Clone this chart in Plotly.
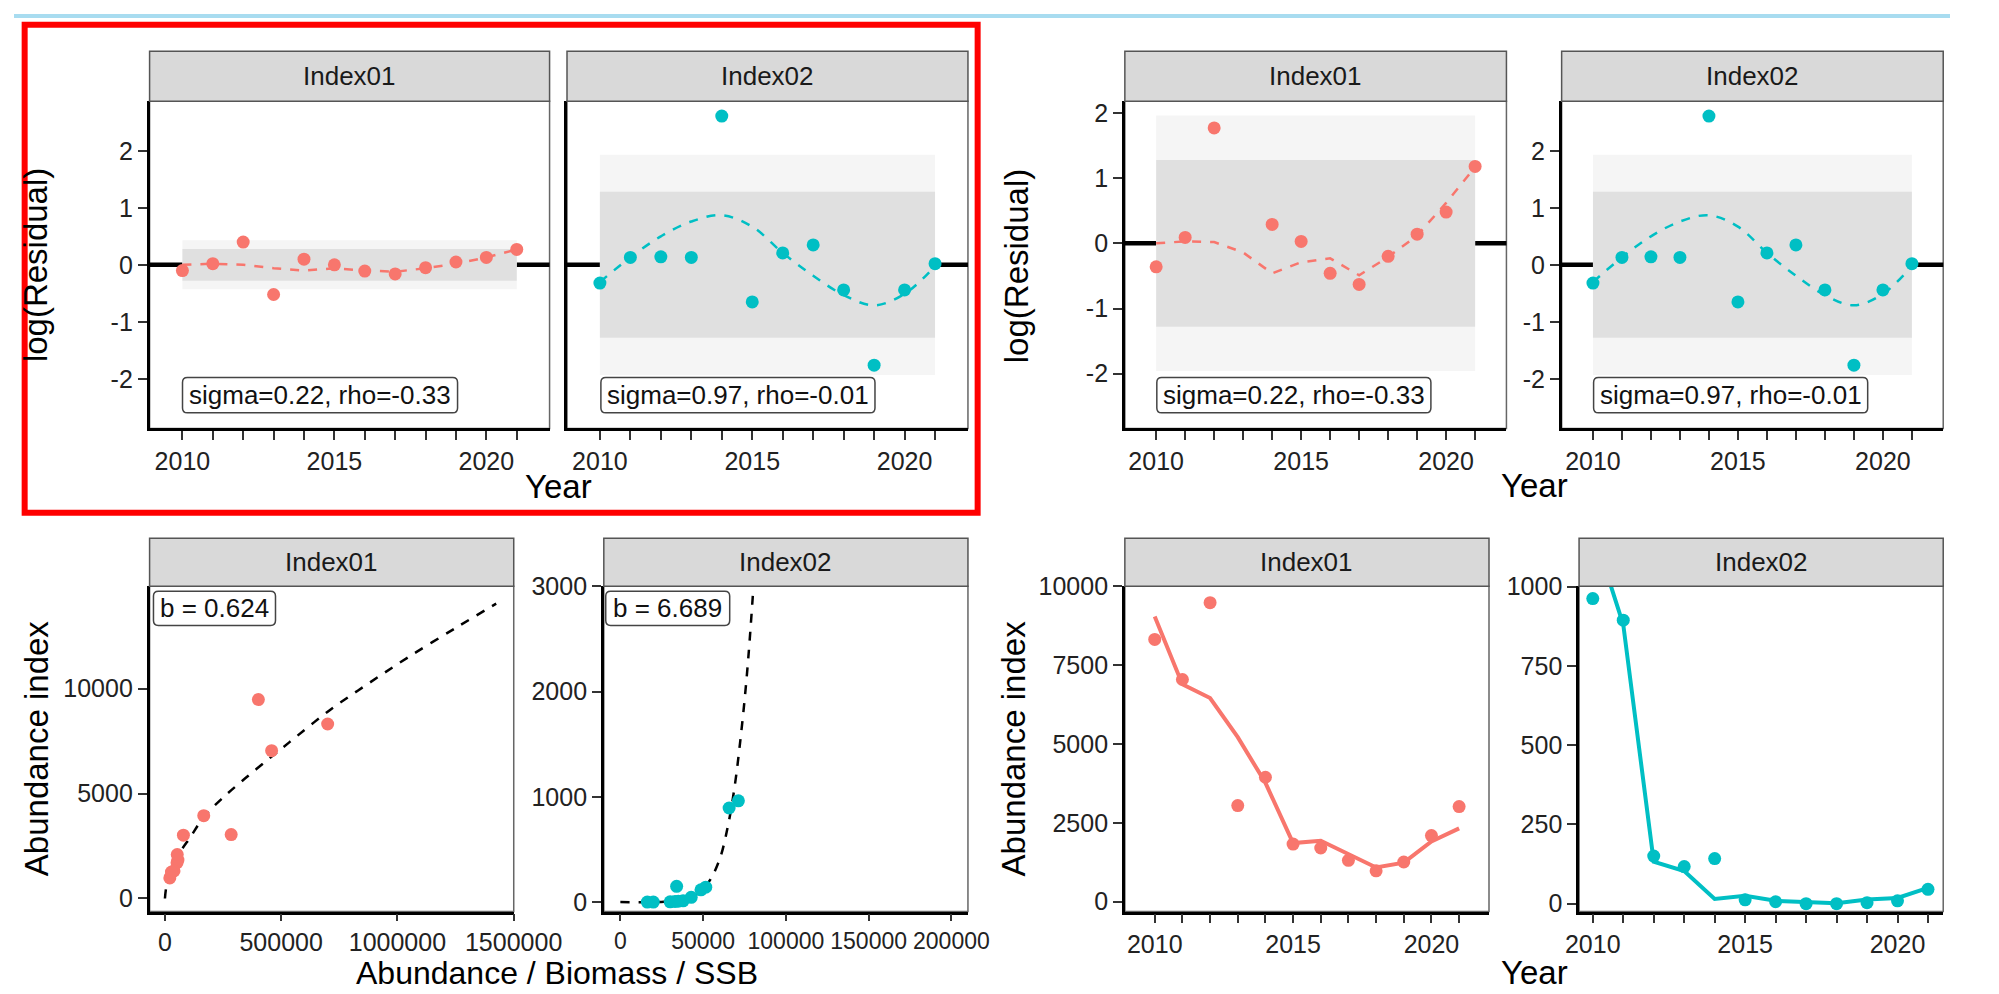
import plotly.graph_objects as go

W, H = 1999, 994

# ---------------- data ----------------
years = list(range(2010, 2022))
year_tick_labels = [str(y) if y % 5 == 0 else "" for y in years]

# top row: log residuals (left block)
resid_idx1_a = [-0.10, 0.02, 0.40, -0.52, 0.10, 0.00, -0.11, -0.16, -0.05, 0.05, 0.13, 0.27]
smooth_idx1_a = [0.00, 0.02, 0.00, -0.06, -0.10, -0.06, -0.10, -0.12, -0.06, 0.02, 0.13, 0.27]
band_idx1_a = [0.28, 0.43]

resid_idx2 = [-0.32, 0.13, 0.14, 0.13, 2.61, -0.65, 0.21, 0.35, -0.44, -1.76, -0.44, 0.02]
smooth_idx2 = [-0.30, 0.13, 0.50, 0.76, 0.87, 0.67, 0.21, -0.19, -0.53, -0.71, -0.51, -0.02]
band_idx2 = [1.28, 1.93]

# top row: log residuals (right block)
resid_idx1_b = [-0.36, 0.09, 1.77, None, 0.29, 0.03, -0.46, -0.63, -0.20, 0.14, 0.48, 1.18]
smooth_idx1_b = [0.00, 0.03, 0.02, -0.14, -0.46, -0.29, -0.23, -0.49, -0.21, 0.12, 0.62, 1.17]
band_idx1_b = [1.28, 1.96]

resid_labels = ["sigma=0.22, rho=-0.33", "sigma=0.97, rho=-0.01"]

# bottom row: observed / predicted abundance index
obs_idx1 = [8316, 7045, 9480, 3047, 3946, 1828, 1704, 1312, 981, 1260, 2097, 3016]
pred_idx1 = [9040, 6890, 6456, 5217, 3770, 1860, 1932, 1498, 1085, 1240, 1911, 2324]
obs_idx2 = [962, 894, 150, 117, 142, 12, 6, 0, 0, 3, 9, 45]
pred_idx2 = [1180, 880, 132, 103, 15, 25, 9, 4, 1, 13, 18, 50]

# bottom-left: index vs abundance / biomass / SSB
biomass_idx1 = [700000, 459000, 402000, 285000, 167000, 56000, 52000, 39000, 21000, 28000, 53000, 79500]
biomass_idx2 = [71300, 65700, 34000, 48700, 51600, 37900, 33000, 16300, 19900, 30100, 35000, 42800]
fit1_x = [0, 7000, 28000, 63000, 111000, 167000, 250000, 348000, 459000, 536000, 706000, 876000, 1047000, 1259000, 1425000]
fit1_y = [0, 620, 1400, 2170, 2950, 3880, 4810, 5750, 6760, 7450, 8950, 10250, 11500, 12950, 14050]
fit2_x = [0, 24600, 39900, 51600, 59500, 65400, 69300, 72200, 75100, 77500, 80400]
fit2_y = [0, 2, 17, 154, 386, 756, 1126, 1497, 1929, 2361, 2994]
b_labels = ["b = 0.624", "b = 6.689"]

strip_labels = ["Index01", "Index02"]

resid_yticks = [-2, -1, 0, 1, 2]
p5_xticks = [0, 500000, 1000000, 1500000]
p6_xticks = [0, 50000, 100000, 150000, 200000]
p5_yticks = [0, 5000, 10000]
p6_yticks = [0, 1000, 2000, 3000]
p7_yticks = [0, 2500, 5000, 7500, 10000]
p8_yticks = [0, 250, 500, 750, 1000]

SALMON = "#F8766D"
TEAL = "#00BFC4"
FONT = "Liberation Sans, Arial, sans-serif"


def fx(p):
    return p / W


def fy(p):
    return 1 - p / H


# panel boxes in pixels: x0, x1, plot top, plot bottom, strip top
panels = [
    (140, 553, 89, 423, 38),
    (571, 985, 89, 423, 38),
    (1147, 1541, 89, 423, 38),
    (1598, 1992, 89, 423, 38),
    (140, 516, 584, 916, 535),
    (609, 985, 584, 916, 535),
    (1147, 1523, 584, 916, 535),
    (1616, 1992, 584, 916, 535),
]

fig = go.Figure()
shapes = []
annotations = []


def axis_common():
    return dict(showgrid=False, zeroline=False, showline=True, linecolor="black",
                linewidth=2.5, ticks="outside", ticklen=9, tickwidth=1.5, tickangle=0,
                tickcolor="#333333", tickfont=dict(family=FONT, size=25, color="#222222"))


yr_range = [2008.92, 2022.08]
axes = [
    # (xrange, xticks, xlabels, yrange, yticks, show y labels)
    (yr_range, years, year_tick_labels, [-2.87, 2.87], resid_yticks, True),
    (yr_range, years, year_tick_labels, [-2.87, 2.87], resid_yticks, False),
    (yr_range, years, year_tick_labels, [-2.84, 2.18], resid_yticks, True),
    (yr_range, years, year_tick_labels, [-2.87, 2.87], resid_yticks, True),
    ([-66000, 1500500], p5_xticks, [str(v) for v in p5_xticks], [-624, 14880], p5_yticks, True),
    ([-10000, 210000], p6_xticks, [str(v) for v in p6_xticks], [-90, 3001], p6_yticks, True),
    (yr_range, years, year_tick_labels, [-312, 10001], p7_yticks, True),
    ([2009.55, 2021.5], years, year_tick_labels, [-25, 1001], p8_yticks, True),
]

layout_axes = {}
for i, ((x0, x1, top, bot, stop), (xr, xt, xl, yr, yt, showy)) in enumerate(zip(panels, axes), start=1):
    sfx = "" if i == 1 else str(i)
    xa = axis_common()
    xa.update(domain=[fx(x0), fx(x1)], range=xr, tickvals=xt, ticktext=xl,
              anchor="y" + sfx)
    ya = axis_common()
    ya.update(domain=[fy(bot), fy(top)], range=yr, tickvals=yt,
              ticktext=[str(v) for v in yt], anchor="x" + sfx)
    if not showy:
        ya.update(showticklabels=False, ticks="")
    layout_axes["xaxis" + sfx] = xa
    layout_axes["yaxis" + sfx] = ya

    # strip
    shapes.append(dict(type="rect", xref="paper", yref="paper",
                       x0=fx(x0), x1=fx(x1), y0=fy(top), y1=fy(stop),
                       fillcolor="#d9d9d9", line=dict(color="#555555", width=1.5)))
    annotations.append(dict(xref="paper", yref="paper", x=fx((x0 + x1) / 2),
                            y=fy((top + stop) / 2), text=strip_labels[(i - 1) % 2],
                            showarrow=False, font=dict(family=FONT, size=26, color="#1a1a1a"),
                            xanchor="center", yanchor="middle"))
    # panel border
    shapes.append(dict(type="rect", xref="paper", yref="paper", layer="below",
                       x0=fx(x0), x1=fx(x1), y0=fy(bot), y1=fy(top),
                       line=dict(color="#666666", width=1.5)))

# biomass axes: slightly shorter ticks, smaller labels on the crowded Index02 axis
layout_axes["xaxis5"]["ticklen"] = 7
layout_axes["xaxis6"]["ticklen"] = 7
layout_axes["xaxis6"]["tickfont"] = dict(family=FONT, size=23, color="#222222")


def add_bands(ax, band):
    sfx = "" if ax == 1 else str(ax)
    for lim, col in [(band[1], "#f5f5f5"), (band[0], "#e0e0e0")]:
        shapes.append(dict(type="rect", xref="x" + sfx, yref="y" + sfx, layer="below",
                           x0=years[0], x1=years[-1], y0=-lim, y1=lim,
                           fillcolor=col, line=dict(width=0)))
    shapes.append(dict(type="line", xref="x" + sfx + " domain", yref="y" + sfx,
                       layer="below", x0=0, x1=1, y0=0, y1=0,
                       line=dict(color="black", width=4.5)))


def resid_panel(ax, resid, smooth, band, color, shape):
    sfx = "" if ax == 1 else str(ax)
    add_bands(ax, band)
    fig.add_trace(go.Scatter(x=years, y=smooth, mode="lines", xaxis="x" + sfx, yaxis="y" + sfx,
                             line=dict(color=color, width=2.5, dash="dash", shape=shape)))
    fig.add_trace(go.Scatter(x=years, y=resid, mode="markers", xaxis="x" + sfx, yaxis="y" + sfx,
                             marker=dict(color=color, size=13)))


resid_panel(1, resid_idx1_a, smooth_idx1_a, band_idx1_a, SALMON, "linear")
resid_panel(2, resid_idx2, smooth_idx2, band_idx2, TEAL, "spline")
resid_panel(3, resid_idx1_b, smooth_idx1_b, band_idx1_b, SALMON, "linear")
resid_panel(4, resid_idx2, smooth_idx2, band_idx2, TEAL, "spline")


def label_box(x0, x1, y0, y1, txt, r=5):
    # rounded white box with a thin border, like a ggplot label
    pts = [("M", x0 + r, y0), ("L", x1 - r, y0), ("Q", x1, y0, x1, y0 + r),
           ("L", x1, y1 - r), ("Q", x1, y1, x1 - r, y1), ("L", x0 + r, y1),
           ("Q", x0, y1, x0, y1 - r), ("L", x0, y0 + r), ("Q", x0, y0, x0 + r, y0)]
    path = ""
    for p in pts:
        cmd, coords = p[0], p[1:]
        xy = [f"{fx(coords[k]):.5f},{fy(coords[k + 1]):.5f}" for k in range(0, len(coords), 2)]
        path += cmd + " ".join(xy) + " "
    shapes.append(dict(type="path", xref="paper", yref="paper", layer="above",
                       path=path + "Z", fillcolor="white",
                       line=dict(color="#444444", width=1.5)))
    annotations.append(dict(xref="paper", yref="paper", x=fx((x0 + x1) / 2),
                            y=fy((y0 + y1) / 2), text=txt, showarrow=False,
                            xanchor="center", yanchor="middle",
                            font=dict(family=FONT, size=26, color="#111111")))


# sigma / rho labels
label_box(174, 458, 371, 407, resid_labels[0])
label_box(606, 889, 371, 407, resid_labels[1])
label_box(1180, 1463, 371, 407, resid_labels[0])
label_box(1631, 1914, 371, 407, resid_labels[1])

# scatter panels
fig.add_trace(go.Scatter(x=fit1_x, y=fit1_y, mode="lines", xaxis="x5", yaxis="y5",
                         line=dict(color="black", width=2.5, dash="dash", shape="spline")))
fig.add_trace(go.Scatter(x=biomass_idx1, y=obs_idx1, mode="markers", xaxis="x5", yaxis="y5",
                         marker=dict(color=SALMON, size=13)))
fig.add_trace(go.Scatter(x=fit2_x, y=fit2_y, mode="lines", xaxis="x6", yaxis="y6",
                         line=dict(color="black", width=2.5, dash="dash", shape="spline")))
fig.add_trace(go.Scatter(x=biomass_idx2, y=obs_idx2, mode="markers", xaxis="x6", yaxis="y6",
                         marker=dict(color=TEAL, size=13)))
label_box(144, 270, 589, 624, b_labels[0])
label_box(611, 739, 589, 624, b_labels[1])

# time series panels
fig.add_trace(go.Scatter(x=years, y=pred_idx1, mode="lines", xaxis="x7", yaxis="y7",
                         line=dict(color=SALMON, width=4)))
fig.add_trace(go.Scatter(x=years, y=obs_idx1, mode="markers", xaxis="x7", yaxis="y7",
                         marker=dict(color=SALMON, size=13)))
fig.add_trace(go.Scatter(x=years, y=pred_idx2, mode="lines", xaxis="x8", yaxis="y8",
                         line=dict(color=TEAL, width=4)))
fig.add_trace(go.Scatter(x=years, y=obs_idx2, mode="markers", xaxis="x8", yaxis="y8",
                         marker=dict(color=TEAL, size=13)))

# axis titles
title_font = dict(family=FONT, size=33, color="black")
for x, y, txt, ang, size in [(23, 256, "log(Residual)", -90, 33), (1035, 257, "log(Residual)", -90, 33),
                             (562, 482, "Year", 0, 33), (1570, 481, "Year", 0, 33),
                             (24, 749, "Abundance index", -90, 33), (1032, 749, "Abundance index", -90, 33),
                             (561, 979, "Abundance / Biomass / SSB", 0, 32), (1570, 978, "Year", 0, 33)]:
    annotations.append(dict(xref="paper", yref="paper", x=fx(x), y=fy(y), text=txt,
                            textangle=ang, showarrow=False,
                            font=dict(family=FONT, size=size, color="black"),
                            xanchor="center", yanchor="middle"))

# frame marks on the picture
shapes.append(dict(type="rect", xref="paper", yref="paper", x0=0, x1=1, y0=fy(4), y1=1,
                   fillcolor="#a8dcf0", line=dict(width=0)))
shapes.append(dict(type="rect", xref="paper", yref="paper", x0=fx(11), x1=fx(995),
                   y0=fy(509), y1=fy(11), line=dict(color="#ff0000", width=6)))

fig.update_layout(autosize=True, margin=dict(l=0, r=0, t=0, b=0),
                  paper_bgcolor="white", plot_bgcolor="white", showlegend=False,
                  shapes=shapes, annotations=annotations, **layout_axes)

# figure fills the browser window exactly, no page margin, no toolbar
fig.write_html("out.html", default_width="100vw", default_height="100vh",
               config={"displayModeBar": False, "responsive": True},
               post_script="document.body.style.margin='0';document.body.style.overflow='hidden';")
